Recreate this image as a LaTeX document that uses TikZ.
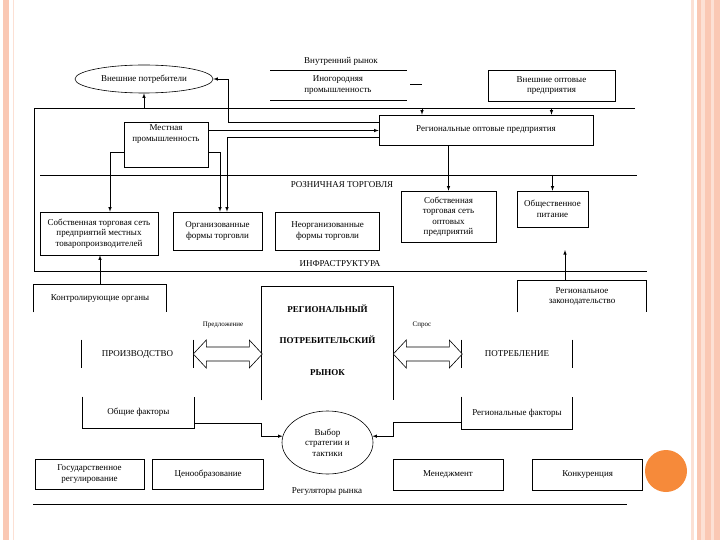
\documentclass[tikz,border=0pt]{standalone}
\usepackage{fontspec}
\setmainfont{Liberation Serif}
\usepackage{tikz}
\usetikzlibrary{positioning, shapes.geometric}

\definecolor{peach}{RGB}{250,200,180}
\definecolor{peachlight}{RGB}{252,224,212}
\definecolor{dotorange}{RGB}{246,138,58}

\begin{document}
\begin{tikzpicture}[x=1pt, y=-1pt, line width=0.6pt, font=\fontsize{9}{10.5}\selectfont]
    \tikzstyle{cell} = [rectangle, draw=black, align=center, inner sep=1pt]
    \tikzstyle{bare} = [rectangle, align=center, inner sep=1pt]
    \tikzstyle{oval} = [ellipse, draw=black, align=center, inner sep=0pt]
    \tikzstyle{link} = [-latex]
    \tikzstyle{caption} = [font=\fontsize{7}{8}\selectfont]

    % slide
    \useasboundingbox (0,0) rectangle (720,540);
    \fill[peach] (3,0) rectangle (9,540);
    \fill[peachlight] (12.5,0) rectangle (14,540);
    \fill[peachlight] (691,0) rectangle (694,540);
    \fill[peach] (697,0) rectangle (720,540);
    \fill[peachlight] (701,0) rectangle (705,540);
    \fill[peachlight] (711,0) rectangle (714,540);
    \fill[dotorange] (666,471) circle (21pt);

    % top
    \node (vnutr) [bare] at (341,61) {Внутренний рынок};
    \node (inog) [bare] at (338,85) {Иногородняя\\промышленность};
    \draw (270,70) -- (407,70);
    \draw (270,100) -- (407,100);
    \draw (410,84) -- (422,84);
    \node (vopt) [cell, minimum width=127pt, minimum height=31pt] at (551.5,85.5) {Внешние оптовые\\предприятия};
    \node (vnpotr) [oval, minimum width=138pt, minimum height=28pt] at (144,79) {Внешние потребители};
    \node (rop) [cell, minimum width=214pt, minimum height=30pt] at (486,130) {Региональные оптовые предприятия};
    \node (mest) [cell, minimum width=84pt, minimum height=45pt, label={[bare, anchor=north, yshift=-2pt]north:Местная\\промышленность}] at (166,144.5) {};

    % frame
    \draw (635,108) -- (34,108) -- (34,271) -- (647,271);
    \draw (40,175) -- (637,175);
    \coordinate (topline) at (422,108);
    \coordinate (retline) at (558,175);
    \node (rozn) [bare] at (342,185) {РОЗНИЧНАЯ ТОРГОВЛЯ};
    \node (infra) [bare] at (340,264) {ИНФРАСТРУКТУРА};

    % retail
    \node (sob1) [cell, minimum width=118pt, minimum height=43pt] at (99,233.5) {Собственная торговая сеть\\предприятий местных\\товаропроизводителей};
    \node (org) [cell, minimum width=89pt, minimum height=38pt] at (217.5,231) {Организованные\\формы торговли};
    \node (neorg) [cell, minimum width=104pt, minimum height=38pt, right=13pt of org] {Неорганизованные\\формы торговли};
    \node (sob2) [cell, minimum width=95pt, minimum height=51pt] at (448.5,216.5) {Собственная\\торговая сеть\\оптовых\\предприятий};
    \node (pit) [cell, minimum width=71pt, minimum height=36pt] at (552.5,209) {Общественное\\питание};

    % market
    \node (kontr) [bare, minimum width=132pt, minimum height=27pt] at (100,298.5) {Контролирующие органы};
    \node (zak) [bare, minimum width=128pt, minimum height=31pt] at (582,296.5) {Региональное\\законодательство};
    \node (rynok) [bare, minimum width=131pt, minimum height=106pt, font=\fontsize{9}{10.5}\selectfont\bfseries] at (327.5,340) {РЕГИОНАЛЬНЫЙ\\[21pt]ПОТРЕБИТЕЛЬСКИЙ\\[21pt]РЫНОК};
    \node (proizv) [bare, minimum width=111pt, minimum height=28pt] at (137.5,354) {ПРОИЗВОДСТВО};
    \node (potr) [bare, minimum width=110pt, minimum height=28pt] at (517,354) {ПОТРЕБЛЕНИЕ};
    \node (obsh) [bare, minimum width=111pt, minimum height=31pt] at (138.5,412.5) {Общие факторы};
    \node (regf) [bare, minimum width=110pt, minimum height=32pt] at (517,413) {Региональные факторы};
    \node (vybor) [oval, minimum width=91pt, minimum height=63pt] at (327.5,442.5) {Выбор\\стратегии и\\тактики};
    \node (predl) [caption] at (223,325) {Предложение};
    \node (spros) [caption] at (422,325) {Спрос};

    \draw (kontr.south west) -- (kontr.north west) -- (kontr.north east) -- (kontr.south east);
    \draw (zak.south west) -- (zak.north west) -- (zak.north east) -- (zak.south east);
    \draw ([yshift=-7pt]rynok.south west) -- (rynok.north west) -- (rynok.north east) -- ([yshift=-7pt]rynok.south east);
    \draw (proizv.north west) -- (proizv.south west);
    \draw (proizv.north east) -- (proizv.south east);
    \draw (potr.north west) -- (potr.south west);
    \draw (potr.north east) -- (potr.south east);
    \draw (obsh.north west) -- (obsh.south west) -- (obsh.south east) -- (obsh.north east);
    \draw (regf.north west) -- (regf.south west) -- (regf.south east) -- (regf.north east);

    % supply and demand
    \draw[fill=white] (proizv.east) -- ++(13,-14) -- ++(0,7) -- ++(43,0) -- ++(0,-7) -- ++(13,14) -- ++(-13,14) -- ++(0,-7) -- ++(-43,0) -- ++(0,7) -- cycle;
    \draw[fill=white] (rynok.east |- potr.west) -- ++(13,-14) -- ++(0,7) -- ++(43,0) -- ++(0,-7) -- ++(13,14) -- ++(-13,14) -- ++(0,-7) -- ++(-43,0) -- ++(0,7) -- cycle;

    % regulators
    \node (gos) [cell, minimum width=109pt, minimum height=30pt] at (89.5,474) {Государственное\\регулирование};
    \node (ceno) [cell, minimum width=111pt, minimum height=30pt, right=8pt of gos] {Ценообразование};
    \node (men) [cell, minimum width=110pt, minimum height=31pt] at (448,474.5) {Менеджмент};
    \node (konk) [cell, minimum width=110pt, minimum height=31pt, right=29pt of men] {Конкуренция};
    \node (regul) [bare] at (327,492) {Регуляторы рынка};
    \draw (33,504) -- (627,504);

    % links
    \coordinate (c1) at (228,122);
    \draw[link] (c1 -| rop.west) -- (c1) |- (vnpotr.east);
    \coordinate (m1) at ([yshift=14pt]mest.east);
    \draw[link] (m1) -- (m1 -| rop.west);
    \coordinate (c2) at (227,137);
    \draw[link] (c2 -| rop.west) -- (c2) -- (c2 |- org.north);
    \coordinate (m2) at ([yshift=-8pt]mest.west);
    \draw[link] (m2) -| ([xshift=11pt]sob1.north);
    \coordinate (m3) at ([yshift=-8pt]mest.east);
    \draw[link] (m3) -| ([xshift=2.5pt]org.north);
    \draw[link] (topline) -- (topline |- rop.north);
    \draw[link] (vopt.south |- topline) -- (vopt.south |- rop.north);
    \draw[link] (vnpotr.south |- topline) -- (vnpotr.south);
    \draw[link] (rop.south -| sob2.north) -- (sob2.north);
    \draw[link] (pit.north |- retline) -- (pit.north);
    \coordinate (z1) at (565,250);
    \draw[link] (z1 |- zak.north) -- (z1);
    \draw[link] (kontr.north) -- (kontr.north |- sob1.south);
    \coordinate (f1) at ([yshift=-10.5pt]obsh.east);
    \draw[link] (f1) -| (rynok.west |- vybor.172) -- (vybor.172);
    \coordinate (f2) at ([yshift=-9pt]regf.west);
    \draw[link] (f2) -| (rynok.east |- vybor.8) -- (vybor.8);
\end{tikzpicture}
\end{document}
